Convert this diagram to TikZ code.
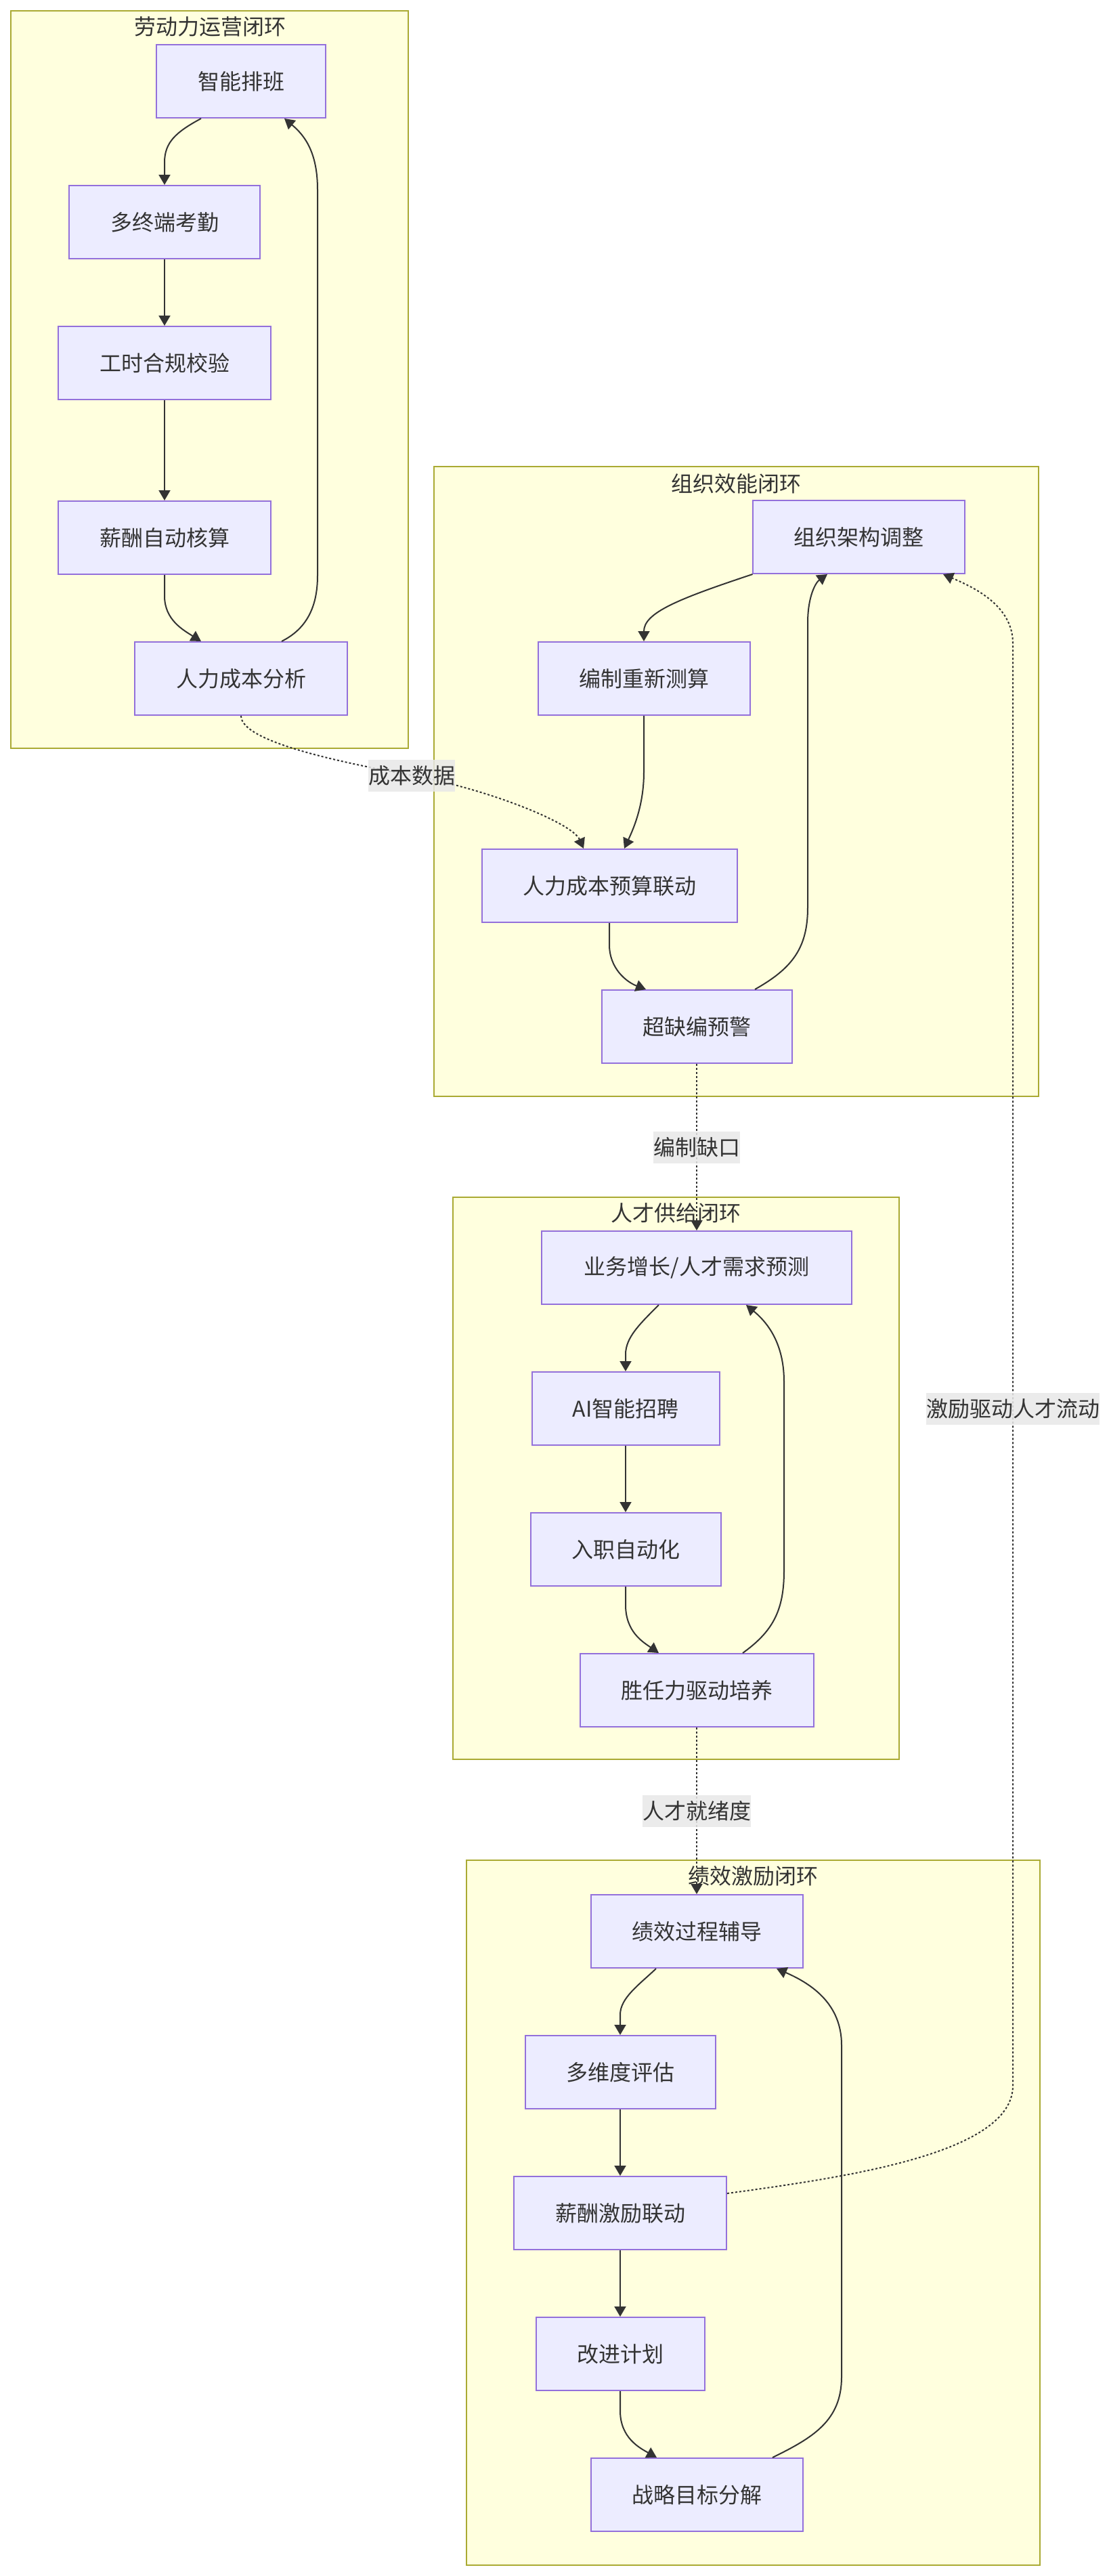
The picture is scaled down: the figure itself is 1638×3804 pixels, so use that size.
\documentclass[tikz,border=0pt]{standalone}
\usepackage{fontspec}
\setmainfont{Noto Sans CJK SC}
\usetikzlibrary{arrows.meta,calc}
\definecolor{clfill}{HTML}{FFFFDE}
\definecolor{clline}{HTML}{AAAA33}
\definecolor{ndfill}{HTML}{ECECFF}
\definecolor{ndline}{HTML}{9370DB}
\definecolor{txt}{HTML}{333333}
\definecolor{lblbg}{HTML}{E8E8E8}
\begin{document}
\begin{tikzpicture}[x=1pt,y=-1pt,
  cluster/.style={draw=clline,fill=clfill,line width=2pt},
  ttl/.style={text=txt,font=\fontsize{32}{38}\selectfont,inner sep=0pt},
  nd/.style={draw=ndline,fill=ndfill,line width=2pt,text=txt,minimum height=108pt,inner sep=0pt,font=\fontsize{32}{38}\selectfont},
  ed/.style={draw=txt,line width=2pt,-{Triangle[length=15pt,width=17pt]}},
  ded/.style={ed,dash pattern=on 3pt off 3pt},
  lbl/.style={fill=lblbg,fill opacity=0.85,text opacity=1,text=txt,inner xsep=0pt,inner ysep=0pt,minimum height=47pt,font=\fontsize{32}{38}\selectfont}]
\path[fill=white,use as bounding box] (0,0) rectangle (1638,3804);
% clusters
\draw[cluster] (16,16) rectangle (603,1105);
\draw[cluster] (641,689) rectangle (1534,1619);
\draw[cluster] (669,1768) rectangle (1328,2598);
\draw[cluster] (689,2747) rectangle (1536,3788);
\node[ttl] (t1) at (310,39) {劳动力运营闭环};
\node[ttl] (t2) at (1087,714) {组织效能闭环};
\node[ttl] (t3) at (998,1791) {人才供给闭环};
\node[ttl] (t4) at (1112,2770) {绩效激励闭环};
% nodes
\node[nd,minimum width=250pt] (a1) at (356,120) {智能排班};
\node[nd,minimum width=282pt] (a2) at (243,328) {多终端考勤};
\node[nd,minimum width=314pt] (a3) at (243,536) {工时合规校验};
\node[nd,minimum width=314pt] (a4) at (243,794) {薪酬自动核算};
\node[nd,minimum width=314pt] (a5) at (356,1002) {人力成本分析};
\node[nd,minimum width=313pt] (b1) at (1268,793) {组织架构调整};
\node[nd,minimum width=313pt] (b2) at (951,1002) {编制重新测算};
\node[nd,minimum width=377pt] (b3) at (900,1308) {人力成本预算联动};
\node[nd,minimum width=281pt] (b4) at (1029,1516) {超缺编预警};
\node[nd,minimum width=458pt] (c1) at (1029,1872) {业务增长/人才需求预测};
\node[nd,minimum width=277pt] (c2) at (924,2080) {AI智能招聘};
\node[nd,minimum width=281pt] (c3) at (924,2288) {入职自动化};
\node[nd,minimum width=345pt] (c4) at (1029,2496) {胜任力驱动培养};
\node[nd,minimum width=313pt] (d1) at (1029,2852) {绩效过程辅导};
\node[nd,minimum width=281pt] (d2) at (916,3060) {多维度评估};
\node[nd,minimum width=314pt] (d3) at (916,3268) {薪酬激励联动};
\node[nd,minimum width=249pt] (d4) at (916,3476) {改进计划};
\node[nd,minimum width=313pt] (d5) at (1029,3684) {战略目标分解};
% label anchors
\coordinate (p1) at (608,1145);
\coordinate (p2) at (1029,1694);
\coordinate (p3) at (1029,2674);
\coordinate (p4) at (1496,2080);
% edges cluster 1
\draw[ed] ([xshift=-59pt]a1.south) .. controls (260,195) and (243,210) .. (243,240) -- (a2.north);
\draw[ed] (a2) -- (a3);
\draw[ed] (a3) -- (a4);
\draw[ed] (a4.south) -- (243,880) .. controls (243,915) and (270,930) .. ([xshift=-59pt]a5.north);
\draw[ed] ([xshift=60pt]a5.north) .. controls (450,930) and (469,900) .. (469,850) -- (469,280) .. controls (469,225) and (450,200) .. ([xshift=64pt]a1.south);
% cluster 2
\draw[ed] ([xshift=1pt]b1.south west) .. controls (1000,885) and (951,905) .. (b2.north);
\draw[ed] (b2.south) -- (951,1140) .. controls (951,1190) and (935,1225) .. ([xshift=22pt]b3.north);
\draw[ded] (a5.south) .. controls (356,1095) and (500,1125) .. (p1) .. controls (720,1165) and (845,1215) .. ([xshift=-38pt]b3.north);
\draw[ed] (b3.south) -- (900,1395) .. controls (900,1430) and (925,1450) .. ([xshift=-75pt]b4.north);
\draw[ed] ([xshift=86pt]b4.north) .. controls (1170,1430) and (1193,1400) .. (1193,1340) -- (1193,920) .. controls (1193,880) and (1205,860) .. ([xshift=-46pt]b1.south);
% cluster 3
\draw[ded] (b4.south) -- (c1.north);
\draw[ed] ([xshift=-56pt]c1.south) .. controls (945,1955) and (924,1975) .. (924,2000) -- (c2.north);
\draw[ed] (c2) -- (c3);
\draw[ed] (c3.south) -- (924,2370) .. controls (924,2410) and (950,2425) .. ([xshift=-56pt]c4.north);
\draw[ed] ([xshift=68pt]c4.north) .. controls (1140,2410) and (1158,2380) .. (1158,2320) -- (1158,2040) .. controls (1158,1980) and (1130,1950) .. ([xshift=73pt]c1.south);
% cluster 4
\draw[ded] (c4.south) -- (d1.north);
\draw[ed] ([xshift=-60pt]d1.south) .. controls (945,2930) and (916,2950) .. (916,2975) -- (d2.north);
\draw[ed] (d2) -- (d3);
\draw[ed] (d3) -- (d4);
\draw[ed] (d4.south) -- (916,3560) .. controls (916,3600) and (945,3615) .. ([xshift=-59pt]d5.north);
\draw[ed] ([xshift=112pt]d5.north) .. controls (1200,3600) and (1243,3575) .. (1243,3510) -- (1243,3020) .. controls (1243,2960) and (1200,2930) .. ([xshift=118pt]d1.south);
\draw[ded] ([yshift=29pt]d3.east) .. controls (1250,3215) and (1496,3180) .. (1496,3080) -- (p4) -- (1496,950) .. controls (1496,895) and (1440,868) .. ([xshift=125pt]b1.south);
% labels
\node[lbl] (l1) at (p1) {成本数据};
\node[lbl] (l2) at (p2) {编制缺口};
\node[lbl] (l3) at (p3) {人才就绪度};
\node[lbl] (l4) at (p4) {激励驱动人才流动};
\end{tikzpicture}
\end{document}
